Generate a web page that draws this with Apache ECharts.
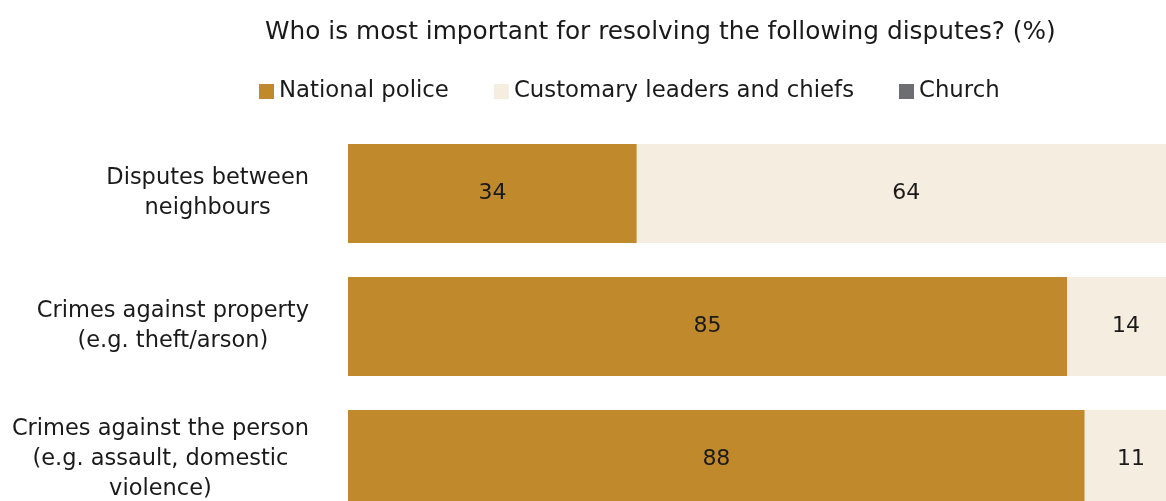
<!DOCTYPE html>
<html>
<head>
<meta charset="utf-8">
<script src="https://cdn.jsdelivr.net/npm/echarts@6/dist/echarts.min.js"></script>
<style>html,body{margin:0;padding:0;background:#fff}#c{width:1166px;height:501px}</style>
</head>
<body>
<div id="c"></div>
<script>
const categories = [
  ["Disputes between", "neighbours"],
  ["Crimes against property", "(e.g. theft/arson)"],
  ["Crimes against the person", "(e.g. assault, domestic", "violence)"]
];
const police = [34.3, 85.4, 87.5];
const customary = [64, 14, 11];
const church = [2, 1, 1];
const seriesNames = ["National police", "Customary leaders and chiefs", "Church"];
const colors = ["#C0892C", "#F5EDE0", "#6D6E71"];
const FONT = "DejaVu Sans";
const TEXT = "#1a1a1a";

const chart = echarts.init(document.getElementById('c'), null, {renderer: 'canvas'});
const catNames = categories.map(c => c.join("\n"));
function mk(name, data, color, labelColor) {
  return {
    name: name, type: 'bar', stack: 't', data: data,
    barWidth: 99, clip: false,
    itemStyle: {color: color},
    label: {show: true, position: 'inside', color: labelColor, fontFamily: FONT, fontSize: 22,
      formatter: p => Math.round(p.value)},
    emphasis: {disabled: true}
  };
}
chart.setOption({
  animation: false,
  title: {text: 'Who is most important for resolving the following disputes? (%)', left: 260, top: 15,
    textStyle: {fontFamily: FONT, fontWeight: 'normal', fontSize: 24.8, color: TEXT}},
  legend: {left: 254, top: 75, itemWidth: 15, itemHeight: 15, itemGap: 45, icon: 'rect',
    textStyle: {fontFamily: FONT, fontSize: 22.8, color: TEXT}},
  grid: {left: 348, right: 0, top: 193.5, bottom: 41.5, containLabel: false, outerBoundsMode: 'none'},
  xAxis: {type: 'value', min: 0, max: 97.15, show: false},
  yAxis: {type: 'category', data: catNames, inverse: true, boundaryGap: false,
    axisLine: {show: false}, axisTick: {show: false}, splitLine: {show: false},
    axisLabel: {margin: 39, fontFamily: FONT, fontSize: 22.5, color: TEXT, lineHeight: 30,
      formatter: function(v){ return v.split("\n").map(s => '{c|' + s + '}').join("\n"); },
      rich: {c: {align: 'center', fontFamily: FONT, fontSize: 22.5, color: TEXT, lineHeight: 30}}}},
  series: [
    mk(seriesNames[0], police, colors[0], TEXT),
    mk(seriesNames[1], customary, colors[1], TEXT),
    mk(seriesNames[2], church, colors[2], '#ffffff')
  ]
});
</script>
</body>
</html>
